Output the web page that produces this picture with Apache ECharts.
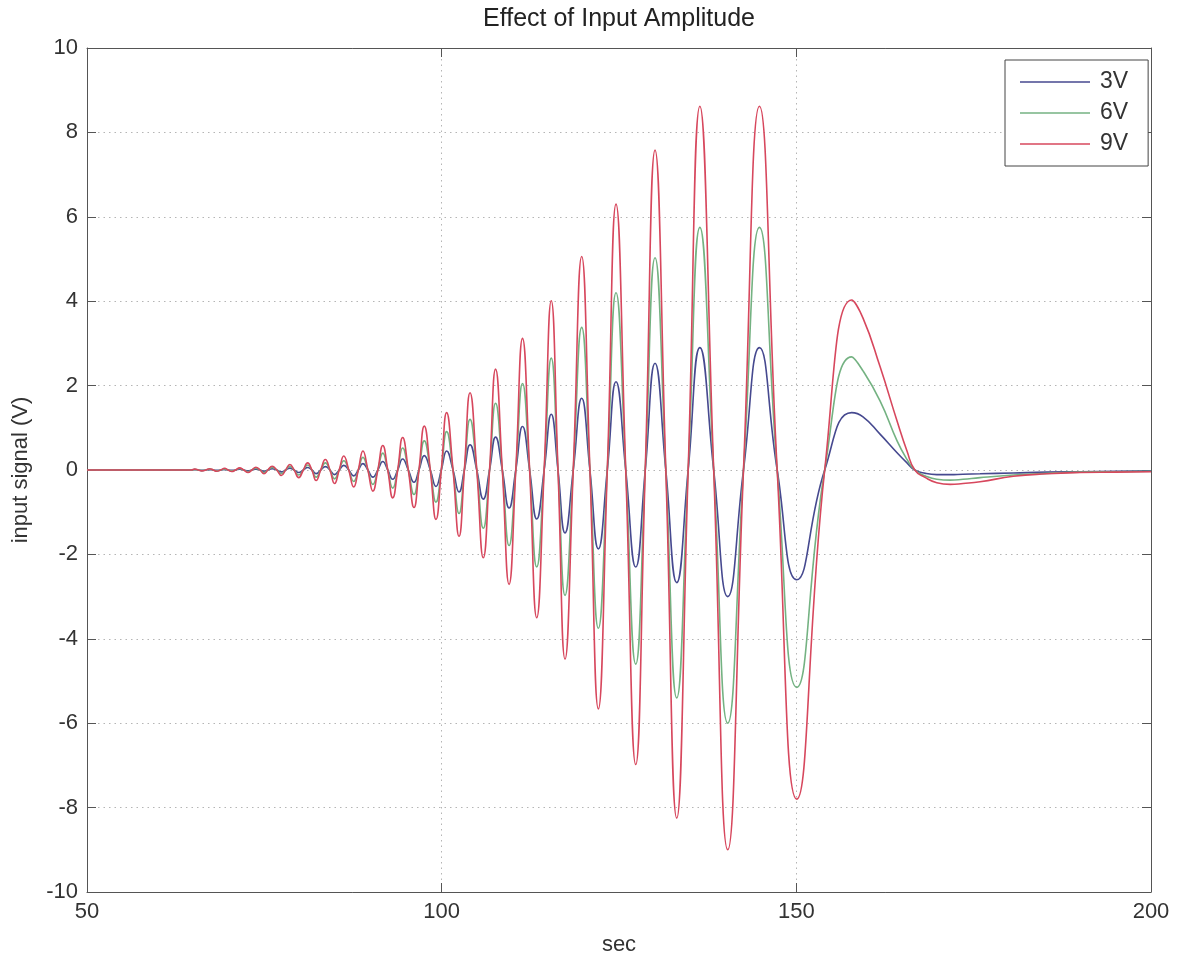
<!DOCTYPE html>
<html>
<head>
<meta charset="utf-8">
<script src="https://cdn.jsdelivr.net/npm/echarts@6/dist/echarts.min.js"></script>
<style>
html,body{margin:0;padding:0;background:#fff;}
#chart{width:1179px;height:961px;}
</style>
</head>
<body>
<div id="chart"></div>
<script>
// time (sec)
var t = [50, 60, 64.7, 65.2, 65.7, 66.2, 66.75, 67.3, 67.8, 68.3,
  68.85, 69.4, 69.9, 70.4, 70.95, 71.5, 72.1, 72.7, 73.25, 73.8,
  74.4, 74.95, 75.5, 76.1, 76.75, 77.4, 78.0, 78.6, 79.2, 79.85,
  80.5, 81.1, 81.7, 82.3, 82.95, 83.6, 84.25, 84.9, 85.55, 86.2,
  86.9, 87.6, 88.25, 88.9, 89.6, 90.3, 91.0, 91.7, 92.4, 93.1,
  93.8, 94.5, 95.3, 96.1, 96.8, 97.55, 98.4, 99.2, 99.95, 100.7,
  101.6, 102.45, 103.2, 104.0, 104.95, 105.87, 106.75, 107.6, 108.55, 109.5,
  110.45, 111.4, 112.4, 113.4, 114.45, 115.45, 116.4, 117.39, 118.55, 119.74,
  120.9, 122.09, 123.35, 124.58, 125.95, 127.36, 128.7, 130.08, 131.6, 133.14,
  134.75, 136.4, 138.35, 140.33, 142.55, 144.8, 147.3, 150.06, 154.0, 157.8,
  159.4, 161.8, 164.2, 165.6, 166.7, 168.2, 169.8, 171.7, 173.5, 175.9,
  180.6, 185.3, 190.0, 195.0, 200.0];

// input signal (V), 3V amplitude
var v3 = [0, 0, 0, 0.01, 0, -0.01, 0, 0.01, 0, -0.01,
  0, 0.015, 0, -0.01, 0, 0.02, 0, -0.02, 0, 0.02,
  0, -0.03, 0, 0.03, 0, -0.045, 0, 0.045, 0, -0.06,
  0, 0.06, 0, -0.085, 0, 0.08, 0, -0.11, 0, 0.11,
  0, -0.14, 0, 0.15, 0, -0.17, 0, 0.20, 0, -0.22,
  0, 0.26, 0, -0.29, 0, 0.34, 0, -0.39, 0, 0.45,
  0, -0.52, 0, 0.60, 0, -0.69, 0, 0.78, 0, -0.90,
  0, 1.03, 0, -1.16, 0, 1.32, 0, -1.49, 0, 1.70,
  0, -1.87, 0, 2.09, 0, -2.30, 0, 2.53, 0, -2.67,
  0, 2.90, 0, -3.00, 0, 2.90, 0, -2.60, 0, 1.36,
  1.26, 0.85, 0.41, 0.17, 0, -0.08, -0.11, -0.11, -0.10, -0.09,
  -0.07, -0.05, -0.04, -0.03, -0.02];

// 6V amplitude
var v6 = [0, 0, 0, 0.015, 0, -0.015, 0, 0.02, 0, -0.02,
  0, 0.025, 0, -0.02, 0, 0.035, 0, -0.04, 0, 0.045,
  0, -0.06, 0, 0.06, 0, -0.09, 0, 0.09, 0, -0.12,
  0, 0.12, 0, -0.17, 0, 0.17, 0, -0.21, 0, 0.22,
  0, -0.27, 0, 0.30, 0, -0.34, 0, 0.40, 0, -0.43,
  0, 0.52, 0, -0.58, 0, 0.69, 0, -0.76, 0, 0.91,
  0, -1.03, 0, 1.20, 0, -1.38, 0, 1.58, 0, -1.79,
  0, 2.05, 0, -2.30, 0, 2.65, 0, -2.97, 0, 3.38,
  0, -3.75, 0, 4.20, 0, -4.60, 0, 5.03, 0, -5.40,
  0, 5.75, 0, -6.00, 0, 5.75, 0, -5.15, 0, 2.68,
  2.35, 1.64, 0.69, 0.25, 0, -0.14, -0.22, -0.24, -0.22, -0.18,
  -0.12, -0.08, -0.05, -0.04, -0.03];

// 9V amplitude
var v9 = [0, 0, 0, 0.02, 0, -0.02, 0, 0.03, 0, -0.03,
  0, 0.04, 0, -0.035, 0, 0.05, 0, -0.06, 0, 0.065,
  0, -0.09, 0, 0.09, 0, -0.13, 0, 0.13, 0, -0.18,
  0, 0.17, 0, -0.25, 0, 0.25, 0, -0.32, 0, 0.33,
  0, -0.40, 0, 0.45, 0, -0.50, 0, 0.58, 0, -0.66,
  0, 0.77, 0, -0.89, 0, 1.04, 0, -1.17, 0, 1.36,
  0, -1.57, 0, 1.83, 0, -2.08, 0, 2.39, 0, -2.71,
  0, 3.12, 0, -3.50, 0, 4.01, 0, -4.48, 0, 5.06,
  0, -5.66, 0, 6.30, 0, -6.98, 0, 7.58, 0, -8.25,
  0, 8.62, 0, -9.00, 0, 8.62, 0, -7.80, 0, 4.03,
  3.60, 2.45, 1.16, 0.45, 0, -0.18, -0.30, -0.34, -0.32, -0.28,
  -0.15, -0.09, -0.06, -0.05, -0.04];

var seriesNames = ['3V', '6V', '9V'];
var seriesColors = ['#46498f', '#74b282', '#d7475d'];
var seriesValues = [v3, v6, v9];

function pairs(ys) {
  var out = [];
  for (var i = 0; i < t.length; i++) out.push([t[i], ys[i]]);
  return out;
}

var FONT = 'Liberation Sans, Arial, sans-serif';
var AX = '#555555';
var TXT = '#333333';
var GRIDC = '#b5b5b5';

function boxAxis(extra) {
  var a = {
    axisLine: { show: true, onZero: false, lineStyle: { color: AX, width: 1 } },
    axisTick: { show: true, inside: true, length: 9, lineStyle: { color: AX } }
  };
  for (var k in extra) a[k] = extra[k];
  return a;
}

var chart = echarts.init(document.getElementById('chart'));
var option = {
  backgroundColor: '#ffffff',
  animation: false,
  title: {
    text: 'Effect of Input Amplitude',
    left: 619, top: 7, padding: 0,
    textAlign: 'center',
    textStyle: { fontFamily: FONT, fontSize: 25, fontWeight: 'normal', color: '#222222' }
  },
  legend: {
    data: seriesNames,
    orient: 'vertical',
    left: 1005, top: 60,
    padding: [10, 20, 10, 15],
    itemWidth: 70, itemHeight: 1.5, itemGap: 7,
    icon: 'rect',
    backgroundColor: '#ffffff',
    borderColor: '#444444', borderWidth: 1,
    textStyle: { fontFamily: FONT, fontSize: 23, color: TXT, lineHeight: 24, padding: [0, 0, 0, 5] }
  },
  grid: { left: 87, right: 28, top: 48, bottom: 69, containLabel: false },
  xAxis: [boxAxis({
    type: 'value', min: 50, max: 200, interval: 50,
    name: 'sec', nameLocation: 'middle', nameGap: 42,
    nameTextStyle: { fontFamily: FONT, fontSize: 22, color: TXT },
    axisLabel: { fontFamily: FONT, fontSize: 22, color: TXT, margin: 9 },
    splitLine: { show: true, lineStyle: { color: GRIDC, type: [1.5, 4], width: 1 } }
  }), boxAxis({
    type: 'value', min: 50, max: 200, interval: 50, position: 'top',
    axisLabel: { show: false }, splitLine: { show: false }
  })],
  yAxis: [boxAxis({
    type: 'value', min: -10, max: 10, interval: 2,
    name: 'input signal (V)', nameLocation: 'middle', nameGap: 55,
    nameTextStyle: { fontFamily: FONT, fontSize: 22, color: TXT },
    axisLabel: { fontFamily: FONT, fontSize: 22, color: TXT, margin: 9 },
    splitLine: { show: true, lineStyle: { color: GRIDC, type: [1.5, 4], width: 1 } }
  }), boxAxis({
    type: 'value', min: -10, max: 10, interval: 2, position: 'right',
    axisLabel: { show: false }, splitLine: { show: false }
  })],
  series: seriesNames.map(function (n, k) {
    return {
      name: n, type: 'line', xAxisIndex: 0, yAxisIndex: 0,
      data: pairs(seriesValues[k]),
      smooth: 0.5, symbol: 'none', showSymbol: false,
      color: seriesColors[k],
      lineStyle: { color: seriesColors[k], width: 1.6 },
      z: 2 + k
    };
  })
};
chart.setOption(option);
</script>
</body>
</html>
